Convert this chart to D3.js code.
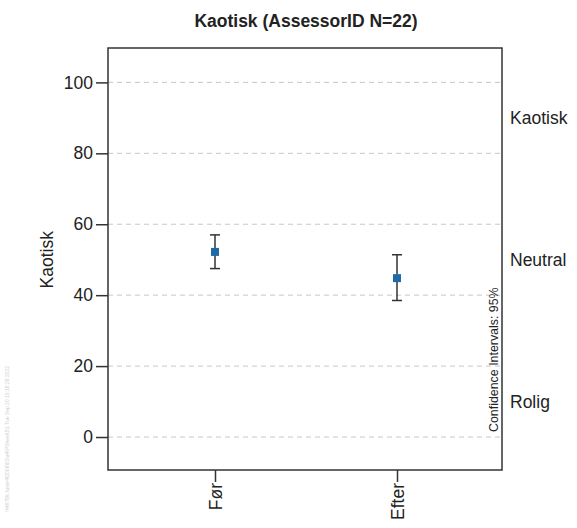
<!DOCTYPE html>
<html>
<head>
<meta charset="utf-8">
<script src="https://cdn.jsdelivr.net/npm/d3@7"></script>
<style>
  body { margin: 0; background: #fff; }
  text { font-family: "Liberation Sans", Arial, sans-serif; fill: #222; }
</style>
</head>
<body>
<svg id="chart" width="577" height="528"></svg>
<script>
// data ----------------------------------------
var categories = ["Før", "Efter"];
var means = [52.2, 44.8];
var lower = [47.5, 38.5];
var upper = [57.0, 51.4];
var yTicks = [0, 20, 40, 60, 80, 100];
var sideLabels = ["Rolig", "Neutral", "Kaotisk"];
var sideLabelValues = [10, 50, 90];

var svg = d3.select("#chart");

var margin = { left: 108, top: 48, right: 502, bottom: 470 };

// scales ----------------------------------------
var y = d3.scaleLinear().domain([-9.3, 109.7]).range([margin.bottom, margin.top]);
var x = d3.scalePoint().domain(categories).range([215, 397]);

// gridlines
svg.append("g")
  .selectAll("line")
  .data(yTicks)
  .enter().append("line")
  .attr("x1", margin.left)
  .attr("x2", margin.right)
  .attr("y1", function(d) { return y(d); })
  .attr("y2", function(d) { return y(d); })
  .attr("stroke", "#c8c8c8")
  .attr("stroke-width", 1)
  .attr("stroke-dasharray", "5,4");

// box
svg.append("rect")
  .attr("x", margin.left)
  .attr("y", margin.top)
  .attr("width", margin.right - margin.left)
  .attr("height", margin.bottom - margin.top)
  .attr("fill", "none")
  .attr("stroke", "#333")
  .attr("stroke-width", 1.5);

// y axis
var yAxis = svg.append("g")
  .attr("transform", "translate(" + margin.left + ",0)")
  .call(d3.axisLeft(y).tickValues(yTicks).tickSize(12).tickPadding(3));
yAxis.select(".domain").remove();
yAxis.selectAll("line").attr("stroke", "#333").attr("stroke-width", 1.5);
yAxis.selectAll("text").style("font-size", "17.5px").attr("fill", "#222")
  .style("font-family", "Liberation Sans, Arial, sans-serif");

// x axis
var xAxis = svg.append("g")
  .attr("transform", "translate(0," + margin.bottom + ")")
  .call(d3.axisBottom(x).tickSize(12).tickPadding(0));
xAxis.select(".domain").remove();
xAxis.selectAll("line").attr("stroke", "#333").attr("stroke-width", 1.5);
xAxis.selectAll("text")
  .style("font-size", "17.5px")
  .style("font-family", "Liberation Sans, Arial, sans-serif")
  .attr("fill", "#222")
  .attr("text-anchor", "end")
  .attr("transform", "rotate(-90)")
  .attr("x", -13)
  .attr("y", 0)
  .attr("dy", "0.35em");

// error bars
var g = svg.append("g");
categories.forEach(function(c, i) {
  var cx = x(c);
  g.append("line")
    .attr("x1", cx).attr("x2", cx)
    .attr("y1", y(lower[i])).attr("y2", y(upper[i]))
    .attr("stroke", "#333").attr("stroke-width", 1.5);
  [lower[i], upper[i]].forEach(function(v) {
    g.append("line")
      .attr("x1", cx - 5).attr("x2", cx + 5)
      .attr("y1", y(v)).attr("y2", y(v))
      .attr("stroke", "#333").attr("stroke-width", 1.5);
  });
  g.append("rect")
    .attr("x", cx - 4).attr("y", y(means[i]) - 4)
    .attr("width", 8).attr("height", 8)
    .attr("fill", "#1f6aa5");
});

// title
svg.append("text")
  .attr("x", 306).attr("y", 27)
  .attr("text-anchor", "middle")
  .style("font-size", "17.5px")
  .style("font-weight", "bold")
  .text("Kaotisk (AssessorID N=22)");

// y label
svg.append("text")
  .attr("transform", "translate(53," + y(50) + ") rotate(-90)")
  .attr("text-anchor", "middle")
  .style("font-size", "17.5px")
  .text("Kaotisk");

// side labels
svg.append("g")
  .selectAll("text")
  .data(sideLabels)
  .enter().append("text")
  .attr("x", 510)
  .attr("y", function(d, i) { return y(sideLabelValues[i]); })
  .attr("dy", "0.35em")
  .style("font-size", "17.5px")
  .text(function(d) { return d; });

// confidence note
svg.append("text")
  .attr("transform", "translate(498,432) rotate(-90)")
  .attr("text-anchor", "start")
  .style("font-size", "12.4px")
  .text("Confidence Intervals: 95%");

// faint watermark
svg.append("text")
  .attr("transform", "translate(9,512) rotate(-90)")
  .style("font-size", "5px")
  .style("fill", "#cfcfcf")
  .text("H4678/c:\\user4\\2006\\01\\a4\\PSheet\\B1.Tue Sep 20 15:18:26 2022");
</script>
</body>
</html>
